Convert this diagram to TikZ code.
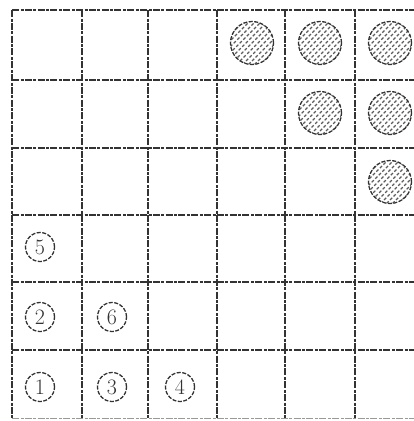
\documentclass[tikz,border=0pt]{standalone}
\definecolor{ink}{HTML}{333333}
\tikzset{
  gridline/.style={draw=ink, line width=1.6pt, dash pattern=on 7pt off 1.6pt on 3pt off 1.2pt},
  hatchdisc/.style={circle, minimum size=43pt, inner sep=0pt, draw=ink, line width=1.3pt,
     dash pattern=on 4pt off 1.5pt,
     path picture={
       \foreach \k in {-30,-24,...,30}{
         \draw[ink!80, line width=1.1pt, dash pattern=on 3pt off 2pt]
           ([xshift=\k pt-25pt, yshift=-25pt]path picture bounding box.center) --
           ([xshift=\k pt+25pt, yshift=25pt]path picture bounding box.center);
       }}},
  numdisc/.style={circle, minimum size=29pt, inner sep=0pt, draw=ink, line width=1.3pt,
     dash pattern=on 4pt off 1.5pt, text=ink, font=\fontsize{22}{22}\selectfont}
}
\begin{document}
\begin{tikzpicture}[x=1pt,y=-1pt]
\useasboundingbox (0,0) rectangle (414,421);
% grid lines
\foreach \x in {12,82,148,217,285,355}{\draw[gridline] (\x,10) -- (\x,418);}
\foreach \y in {10,80,148,215,282,350}{\draw[gridline] (12,\y) -- (414,\y);}
\draw[gridline, draw=ink!50, line width=1pt] (12,418) -- (414,418);
% hatched discs
\node[hatchdisc] (h1) at (252,43) {};
\node[hatchdisc] (h2) at (320,43) {};
\node[hatchdisc] (h3) at (390,43) {};
\node[hatchdisc] (h4) at (320,113) {};
\node[hatchdisc] (h5) at (390,113) {};
\node[hatchdisc] (h6) at (390,182) {};
% numbered discs
\node[numdisc] (n5) at (40,247) {5};
\node[numdisc] (n2) at (40,317) {2};
\node[numdisc] (n6) at (112,317) {6};
\node[numdisc] (n1) at (40,387) {1};
\node[numdisc] (n3) at (112,387) {3};
\node[numdisc] (n4) at (180,387) {4};
\end{tikzpicture}
\end{document}
